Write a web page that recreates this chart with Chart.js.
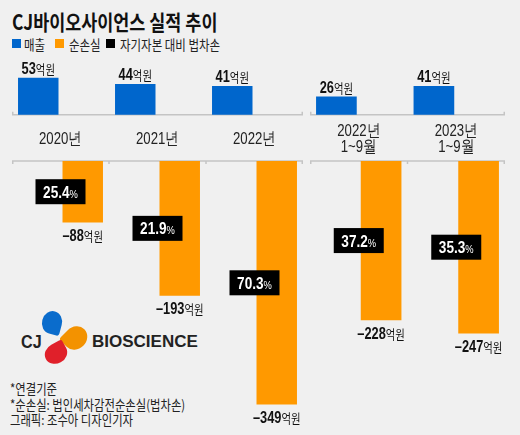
<!DOCTYPE html>
<html>
<head>
<meta charset="utf-8">
<script src="https://cdn.jsdelivr.net/npm/chart.js@4"></script>
<style>
  html, body { margin: 0; padding: 0; }
  body { width: 520px; height: 435px; background: #f0f0f0; position: relative; overflow: hidden;
         font-family: "Noto Sans CJK KR", sans-serif; color: #222; }
  .abs { position: absolute; white-space: nowrap; }
  .sx { display: inline-block; transform-origin: left center; }
  #title { left: 12px; top: 6px; font-size: 21px; font-weight: 700; color: #111; }
  #title .sx { transform: scaleX(0.83); }
  .sq { position: absolute; width: 9px; height: 9px; top: 39px; }
  .lg { top: 34px; font-size: 13.5px; color: #222; }
  .lg .sx { transform: scaleX(0.85); }
  .note { left: 10px; font-size: 13.5px; color: #222; }
  .note .sx { transform: scaleX(0.84); }
  canvas { position: absolute; top: 0; }
  .petal { position: absolute; }
  .logo-t { font-family: "Liberation Sans", Arial, sans-serif; font-weight: 700; color: #222; }
</style>
</head>
<body>
<div id="title" class="abs"><span class="sx">CJ바이오사이언스 실적 추이</span></div>

<div class="sq" style="left:12px;background:#0066cc"></div>
<div class="abs lg" style="left:24px"><span class="sx">매출</span></div>
<div class="sq" style="left:55px;background:#ff9900"></div>
<div class="abs lg" style="left:69px"><span class="sx">순손실</span></div>
<div class="sq" style="left:106px;background:#000"></div>
<div class="abs lg" style="left:120px"><span class="sx">자기자본 대비 법차손</span></div>

<!-- logo -->
<div class="petal" style="left:42px;top:311px;width:20px;height:23px;background:#0a6ccc;border-radius:50% 50% 12% 50%;transform:rotate(15deg)"></div>
<div class="petal" style="left:63px;top:327px;width:25px;height:22px;background:#f39200;border-radius:50% 50% 12% 50%;transform:rotate(135deg)"></div>
<div class="petal" style="left:46px;top:342px;width:20px;height:23px;background:#e0202a;border-radius:50% 50% 12% 50%;transform:rotate(-118deg)"></div>
<div class="abs logo-t" style="left:21px;top:331px;font-size:19px"><span class="sx" style="transform:scaleX(0.85)">CJ</span></div>
<div class="abs logo-t" style="left:92px;top:332px;font-size:17px">BIOSCIENCE</div>

<div class="abs note" style="top:378px"><span class="sx">*연결기준</span></div>
<div class="abs note" style="top:394px"><span class="sx">*순손실: 법인세차감전순손실(법차손)</span></div>
<div class="abs note" style="top:409px"><span class="sx">그래픽: 조수아 디자인기자</span></div>

<canvas id="left" width="291" height="435" style="left:12px"></canvas>
<canvas id="right" width="195" height="435" style="left:310px"></canvas>

<script>
const categories = [['2020년'], ['2021년'], ['2022년'], ['2022년', '1~9월'], ['2023년', '1~9월']];
const sales = [53, 44, 41, 26, 41];          // 매출 (억원)
const losses = [88, 193, 349, 228, 247];     // 순손실 (억원)
const lossRatio = [25.4, 21.9, 70.3, 37.2, 35.3]; // 자기자본 대비 법차손 (%)

const BLUE = '#0066cc';
const ORANGE = '#ff9900';
const H = 435;
const PX = 0.698;        // pixels per 억원
const TOP_ZERO = 114.7;  // baseline of 매출 bars
const BOT_ZERO = 161;    // baseline of 순손실 bars
const NUM = '"Liberation Sans", Arial, sans-serif';
const KR = '"Noto Sans CJK KR", sans-serif';

function drawMixed(ctx, parts, cx, by, color, sx) {
  ctx.save();
  let w = 0;
  parts.forEach(p => { ctx.font = p[1]; w += ctx.measureText(p[0]).width; });
  ctx.translate(cx, by);
  ctx.scale(sx, 1);
  ctx.fillStyle = color;
  ctx.textAlign = 'left';
  ctx.textBaseline = 'alphabetic';
  let x = -w / 2;
  parts.forEach(p => { ctx.font = p[1]; ctx.fillText(p[0], x, 0); x += ctx.measureText(p[0]).width; });
  ctx.restore();
}

const decorPlugin = {
  id: 'decor',
  beforeDatasetsDraw(chart) {
    const ctx = chart.ctx, a = chart.chartArea;
    const t = chart.scales.y.getPixelForValue(0);
    const b = chart.scales.y2.getPixelForValue(0);
    ctx.save();
    ctx.strokeStyle = '#c4c4c4';
    ctx.lineWidth = 1.5;
    ctx.beginPath();
    ctx.moveTo(a.left, t); ctx.lineTo(a.right, t);
    ctx.moveTo(a.left + 0.75, t); ctx.lineTo(a.left + 0.75, t - 3);
    ctx.moveTo(a.right - 0.75, t); ctx.lineTo(a.right - 0.75, t - 3);
    ctx.moveTo(a.left, b); ctx.lineTo(a.right, b);
    const n = chart.data.labels.length;
    const step = (a.right - a.left) / n;
    for (let i = 0; i <= n; i++) {
      const x = Math.min(Math.max(a.left + i * step, a.left + 0.75), a.right - 0.75);
      ctx.moveTo(x, b); ctx.lineTo(x, b + 3);
    }
    ctx.stroke();
    ctx.restore();
  },
  afterDatasetsDraw(chart) {
    const ctx = chart.ctx;
    const xs = chart.scales.x;
    const b = chart.scales.y2.getPixelForValue(0);
    const t = chart.scales.y.getPixelForValue(0);
    const s = chart.data.datasets[0].data;
    const l = chart.data.datasets[1].data;
    const r = chart.data.datasets[1].ratio;
    chart.getDatasetMeta(0).data.forEach((bar, i) => {
      drawMixed(ctx, [[String(s[i]), 'bold 16px ' + NUM], ['억원', '13px ' + KR]], bar.x, bar.y - 4, '#111', 0.8);
    });
    chart.getDatasetMeta(1).data.forEach((bar, i) => {
      drawMixed(ctx, [['–' + Math.abs(l[i]), 'bold 16px ' + NUM], ['억원', '13px ' + KR]], bar.x, bar.y + 18.5, '#111', 0.8);
      const cx = xs.getPixelForValue(i);
      const cy = (b + bar.y) / 2;
      ctx.fillStyle = '#000';
      ctx.fillRect(cx - 25, cy - 12.5, 50, 25);
      drawMixed(ctx, [[r[i].toFixed(1), 'bold 16px ' + NUM], ['%', '11px ' + NUM]], cx, cy + 6, '#fff', 0.85);
    });
    chart.data.labels.forEach((lab, i) => {
      const cx = xs.getPixelForValue(i);
      const mid = (t + b) / 2;
      const lines = Array.isArray(lab) ? lab : [lab];
      lines.forEach((ln, k) => {
        const y = mid + 6 + (k - (lines.length - 1) / 2) * 16.5;
        drawMixed(ctx, [[ln, '16.5px ' + NUM]], cx, y, '#222', 0.8);
      });
    });
  }
};

function makeChart(id, from, to) {
  return new Chart(document.getElementById(id), {
    type: 'bar',
    data: {
      labels: categories.slice(from, to),
      datasets: [{
        label: '매출',
        data: sales.slice(from, to),
        backgroundColor: BLUE,
        yAxisID: 'y'
      }, {
        label: '순손실',
        data: losses.slice(from, to).map(v => -v),
        ratio: lossRatio.slice(from, to),
        backgroundColor: ORANGE,
        yAxisID: 'y2'
      }]
    },
    options: {
      responsive: false,
      animation: false,
      categoryPercentage: 0.917,
      barPercentage: 0.91,
      layout: { padding: 0 },
      plugins: { legend: { display: false }, tooltip: { enabled: false } },
      scales: {
        x: { display: false },
        y: { display: false, min: (TOP_ZERO - H) / PX, max: TOP_ZERO / PX },
        y2: { display: false, min: (BOT_ZERO - H) / PX, max: BOT_ZERO / PX }
      }
    },
    plugins: [decorPlugin]
  });
}

makeChart('left', 0, 3);
makeChart('right', 3, 5);
</script>
</body>
</html>
